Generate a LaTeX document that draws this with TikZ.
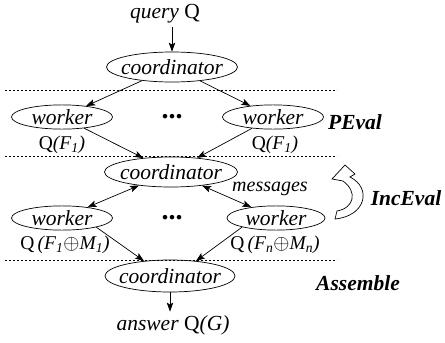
\documentclass[tikz,border=0pt]{standalone}
\usepackage{fontspec}
\setmainfont{Liberation Serif}
\usetikzlibrary{shapes.geometric,arrows.meta}
\begin{document}
\begin{tikzpicture}[x=1pt,y=-1pt,line join=round,line width=0.7pt,>={Stealth[length=9pt,width=6.5pt,inset=2pt]},font=\fontsize{21.5}{24}\selectfont\itshape,
  coord/.style={draw,ellipse,inner xsep=-8pt,inner ysep=1pt,minimum width=131pt,minimum height=30pt},
  work/.style={draw,ellipse,inner xsep=-8pt,inner ysep=1pt,minimum width=101pt,minimum height=24pt},
  lab/.style={font=\fontsize{19.5}{21}\selectfont\itshape,inner sep=0pt,text height=12pt,text depth=4pt},
  phase/.style={font=\fontsize{21.5}{24}\selectfont\bfseries\itshape,inner sep=0pt},
  dots/.style={font=\fontsize{28}{28}\selectfont\upshape\bfseries,inner sep=0pt},
  sep/.style={dash pattern=on 2pt off 2pt,line width=0.5pt}]
\useasboundingbox (0,0) rectangle (445,343);
\draw[sep] (5,90)--(337,90) (5,156)--(337,156) (5,260)--(337,260);
\node (q) at (165,14) {query \textup{Q}};
\node[coord] (c1) at (172,67) {coordinator};
\node[work] (wl1) at (62,117) {worker};
\node[dots] (d1) at (172,117) {...};
\node[work] (wr1) at (273,117) {worker};
\node[lab] (fl1) at (62,145) {\textup{Q}(F\textsubscript{1})};
\node[lab] (fr1) at (275,145) {\textup{Q}(F\textsubscript{1})};
\node[phase] (pe) at (355,122) {PEval};
\node[coord,minimum width=133pt] (c2) at (171,172) {coordinator};
\node[lab,font=\fontsize{20}{22}\selectfont\itshape] (msg) at (270,187) {messages};
\node[work] (wl2) at (62,218) {worker};
\node[dots] (d2) at (172,218) {...};
\node[work,minimum width=98pt] (wr2) at (276,218) {worker};
\node[lab] (fl2) at (65,245) {\textup{Q}\,(F\textsubscript{1}$\oplus$M\textsubscript{1})};
\node[lab] (fr2) at (275,245) {\textup{Q}\,(F\textsubscript{n}$\oplus$M\textsubscript{n})};
\node[phase] (ie) at (406,198) {IncEval};
\node[coord,minimum width=130pt,minimum height=32pt] (c3) at (170,276) {coordinator};
\node[phase] (as) at (358,283) {Assemble};
\node (ans) at (173,325) {answer \textup{Q}(G)};
\draw[->] (q.south -| c1) -- (c1);
\draw[->] (c1) -- (wl1);
\draw[->] (c1) -- (wr1);
\draw[->] (wl1) -- (c2);
\draw[->] (wr1) -- (c2);
\draw[<->] (c2) -- (wl2);
\draw[<->] (c2) -- (wr2);
\draw[->] (wl2.-15) -- (c3.150);
\draw[->] (wr2.-165) -- (c3.30);
\draw[->] (c3) -- (ans.north -| c3);
\draw[line join=miter] (350,177) .. controls (372,188) and (366,216) .. (335,219) -- (337,211) .. controls (354,208) and (358,192) .. (343,181) -- (332,179) -- (345,165) -- (355,174) -- cycle;
\end{tikzpicture}
\end{document}
